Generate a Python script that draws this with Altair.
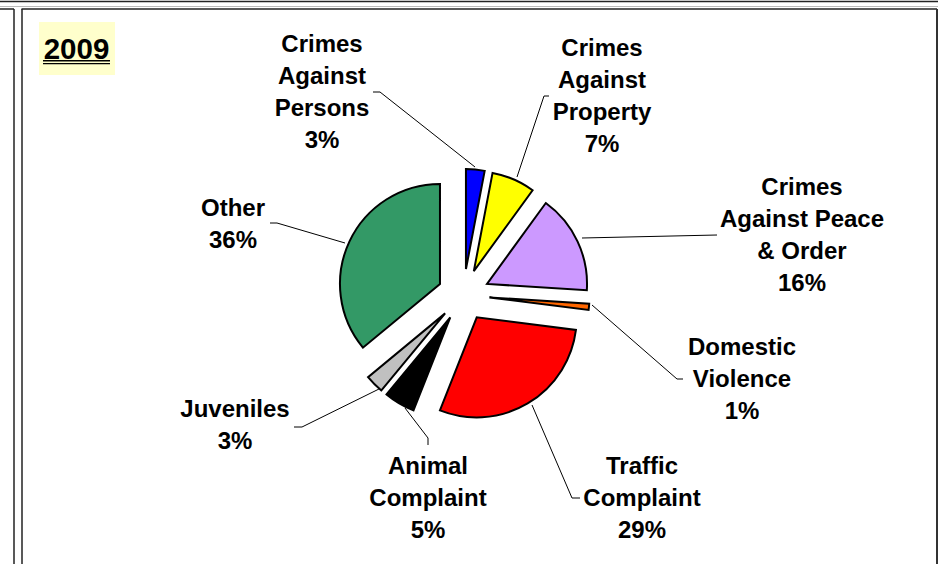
import altair as alt
import pandas as pd

# ---- data ----
label_lines = [
    ["Crimes", "Against", "Persons"],
    ["Crimes", "Against", "Property"],
    ["Crimes", "Against Peace", "& Order"],
    ["Domestic", "Violence"],
    ["Traffic", "Complaint"],
    ["Animal", "Complaint"],
    ["Juveniles"],
    ["Other"],
]
categories = [" ".join(l) for l in label_lines]
percents = [3, 7, 16, 1, 29, 5, 3, 36]
colors = ["#0000FF", "#FFFF00", "#CC99FF", "#FF6600",
          "#FF0000", "#000000", "#C0C0C0", "#339966"]
year_title = "2009"

# ---- layout (pixels) ----
CX, CY, EXPLODE, RADIUS = 463.5, 295.0, 26, 100
label_x = [322, 602, 802, 742, 642, 428, 235, 233]
label_y = [52, 56, 195, 355, 474, 474, 417, 216]
leaders = [
    [(373, 92), (380, 92), (475, 167)],
    [(549, 96), (544, 96), (517, 177)],
    [(717, 235), (582, 238)],
    [(592, 305), (677, 379), (683, 379)],
    [(532, 405), (572, 498), (580, 498)],
    [(405, 408), (428, 438), (428, 445)],
    [(381, 388), (302, 427), (294, 427)],
    [(270, 223), (277, 223), (345, 243)],
]

pie_df = pd.DataFrame({
    "order": list(range(len(categories))),
    "category": categories,
    "pct": percents,
    "color": colors,
})

lab_df = pd.DataFrame({
    "text": ["\n".join(l + [f"{p}%"]) for l, p in zip(label_lines, percents)],
    "lx": label_x,
    "ly": label_y,
})

lead_rows = []
for i, pts in enumerate(leaders):
    for j, (px, py) in enumerate(pts):
        lead_rows.append({"lid": i, "ord": j, "px": px, "py": py})
lead_df = pd.DataFrame(lead_rows)

TWO_PI = 6.283185307179586

pie = alt.Chart(pie_df).transform_window(
    cum="sum(pct)", sort=[alt.SortField("order")], frame=[None, 0]
).transform_calculate(
    start="datum.cum - datum.pct",
    end="datum.cum",
    mid=f"(datum.cum - datum.pct/2) / 100 * {TWO_PI}",
).transform_calculate(
    cx=f"{CX} + {EXPLODE} * sin(datum.mid)",
    cy=f"{CY} - {EXPLODE} * cos(datum.mid)",
).mark_arc(radius=RADIUS, stroke="black", strokeWidth=2, strokeJoin="miter").encode(
    theta=alt.Theta("start:Q", stack=None, scale=alt.Scale(domain=[0, 100], range=[0, TWO_PI])),
    theta2="end:Q",
    x=alt.X("cx:Q", scale=None),
    y=alt.Y("cy:Q", scale=None),
    color=alt.Color("color:N", scale=None),
)

lines = alt.Chart(lead_df).mark_line(color="black", strokeWidth=1).encode(
    x=alt.X("px:Q", scale=None),
    y=alt.Y("py:Q", scale=None),
    detail="lid:N",
    order="ord:Q",
)

labels = alt.Chart(lab_df).mark_text(
    font="Liberation Sans", fontWeight="bold", fontSize=24, lineHeight=32,
    lineBreak="\n", align="center", baseline="alphabetic", color="black",
).encode(
    x=alt.X("lx:Q", scale=None),
    y=alt.Y("ly:Q", scale=None),
    text="text:N",
)

# frame / decorations
border_df = pd.DataFrame([
    {"x": 0, "x2": 938, "y": 1.5, "y2": 1.5, "c": "#222222", "w": 1.5},
    {"x": 0, "x2": 938, "y": 6.5, "y2": 6.5, "c": "#BBBBBB", "w": 1},
    {"x": 0, "x2": 14, "y": 9, "y2": 9, "c": "#222222", "w": 1.5},
    {"x": 21.5, "x2": 937, "y": 9, "y2": 9, "c": "#222222", "w": 1.5},
    {"x": 14, "x2": 14, "y": 9, "y2": 564, "c": "#222222", "w": 1.5},
    {"x": 22, "x2": 22, "y": 9, "y2": 564, "c": "#222222", "w": 1.5},
    {"x": 937, "x2": 937, "y": 9, "y2": 564, "c": "#333333", "w": 2},
    {"x": 43, "x2": 110, "y": 60.8, "y2": 60.8, "c": "#000000", "w": 1.4},
    {"x": 43, "x2": 110, "y": 63.6, "y2": 63.6, "c": "#000000", "w": 1.4},
])
borders = alt.Chart(border_df).mark_rule().encode(
    x=alt.X("x:Q", scale=None), x2="x2:Q",
    y=alt.Y("y:Q", scale=None), y2="y2:Q",
    color=alt.Color("c:N", scale=None),
    strokeWidth=alt.StrokeWidth("w:Q", scale=None),
)

title_box = alt.Chart(pd.DataFrame({"t": [year_title]})).mark_rect(color="#FFFFCC").encode(
    x=alt.value(39), x2=alt.value(115), y=alt.value(22), y2=alt.value(75),
)
title_text = alt.Chart(pd.DataFrame({"t": [year_title]})).mark_text(
    font="Liberation Sans", fontWeight="bold", fontSize=29.5,
    align="center", baseline="alphabetic", color="black",
).encode(x=alt.value(76.5), y=alt.value(59), text="t:N")

chart = alt.layer(title_box, borders, title_text, lines, pie, labels).properties(
    width=938, height=564, padding=0, autosize=alt.AutoSizeParams(type="none"),
    background="white",
).configure_view(stroke=None)

chart.save("out.html", embed_options={"renderer": "svg", "actions": False})
